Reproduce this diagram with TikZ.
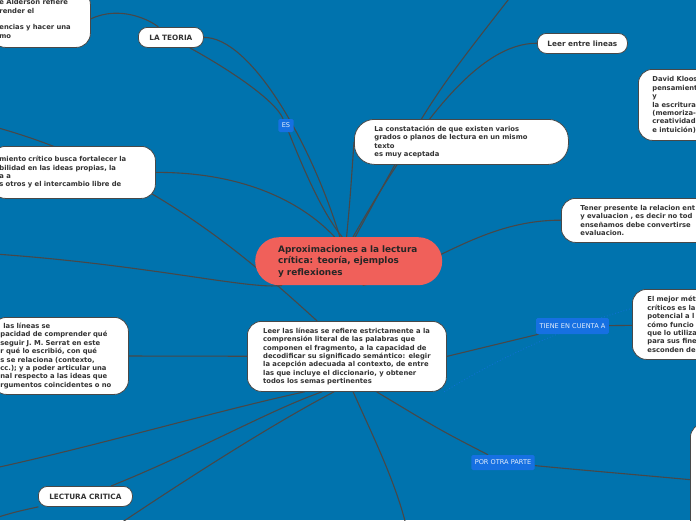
\documentclass[tikz,border=0pt]{standalone}
\usepackage{fontspec}
\setmainfont{DejaVu Sans}
\usetikzlibrary{positioning,backgrounds}
\definecolor{fondo}{RGB}{0,115,174}
\definecolor{rama}{RGB}{72,72,72}
\definecolor{raiz}{RGB}{240,96,90}
\definecolor{etiq}{RGB}{22,112,226}

\begin{document}
\begin{tikzpicture}[x=1pt,y=-1pt,
  idea/.style={draw=rama,fill=white,line width=0.8pt,rounded corners=14pt,anchor=north west,
    align=left,inner xsep=8pt,inner ysep=0pt,font=\fontsize{6.8}{8.4}\selectfont\bfseries,text=black!80},
  chip/.style={draw=rama,fill=white,line width=0.8pt,rounded corners=9pt,anchor=north west,
    inner sep=0pt,font=\fontsize{7.3}{8}\selectfont\bfseries,text=black!80},
  lab/.style={fill=etiq,rounded corners=1.5pt,inner xsep=3.5pt,inner ysep=0pt,minimum height=14pt,
    font=\fontsize{6.6}{7}\selectfont,text=white!88!etiq},
  con/.style={draw=rama,line width=1.1pt},
  lazo/.style={draw=etiq!70!fondo,line width=0.9pt,dotted}]
\useasboundingbox (0,0) rectangle (696,520);

\node (cen) at (255,237) [anchor=north west,fill=raiz,rounded corners=24pt,text width=141pt,minimum height=48pt,
  inner xsep=23pt,align=left,font=\fontsize{8.9}{11.5}\selectfont\bfseries,text=black!85]
  {Aproximaciones a la lectura\\crítica: teoría, ejemplos\\y reflexiones};

\node (lit) at (247,321) [idea,inner xsep=14pt,minimum width=199pt,minimum height=70pt]
  {Leer las líneas se refiere estrictamente a la\\comprensión literal de las palabras que\\componen el fragmento, a la capacidad de\\decodificar su significado semántico: elegir\\la acepción adecuada al contexto, de entre\\las que incluye el diccionario, y obtener\\todos los semas pertinentes};
\node (cons) at (354,119) [idea,rounded corners=20pt,inner xsep=20pt,text width=174pt,minimum width=214pt,minimum height=45pt]
  {La constatación de que existen varios\\grados o planos de lectura en un mismo\\texto\\es muy aceptada};
\node (entre) at (537,33) [chip,minimum width=90pt,minimum height=20pt] {Leer entre lineas};
\node (teo) at (138,27) [chip,minimum width=65pt,minimum height=20pt] {LA TEORIA};
\node (lc) at (38,486) [chip,minimum width=94pt,minimum height=20pt] {LECTURA CRITICA};

\node (ald) at (-9,-10) [idea,text width=83pt,minimum height=57pt]
  {e Alderson refiere\\render el\\\mbox{}\\encias y hacer una\\mo};
\node (fort) at (-9,146) [idea,text width=148pt,minimum height=52pt]
  {miento crítico busca fortalecer la\\bilidad en las ideas propias, la\\a a\\s otros y el intercambio libre de};
\node (serr) at (-8,317) [idea,text width=120pt,minimum height=77pt]
  {\hspace{3pt}las líneas se\\pacidad de comprender qué\\seguir J. M. Serrat en este\\r qué lo escribió, con qué\\s se relaciona (contexto,\\cc.); y a poder articular una\\nal respecto a las ideas que\\rgumentos coincidentes o no};

\node (kl) at (638,69) [idea,inner xsep=14pt,text width=150pt,minimum height=71pt]
  {David Kloos\\pensamient\\y\\la escritura\\(memoriza-\\creatividad\\e intuición)};
\node (ten) at (561,198) [idea,inner xsep=19pt,text width=150pt,minimum height=44pt]
  {Tener presente la relacion ent\\y evaluacion , es decir no tod\\enseñamos debe convertirse\\evaluacion.};
\node (mej) at (632,289) [idea,inner xsep=15pt,text width=150pt,minimum height=70pt]
  {El mejor mét\\críticos es la\\potencial a l\\cómo funcio\\que lo utiliza\\para sus fine\\esconden de};
\node (br) at (690,423) [idea,minimum width=80pt,minimum height=120pt] {};

\node (es) at (286,125.5) [lab,minimum height=13pt] {ES};
\node (tca) at (572.5,326) [lab,minimum height=16pt] {TIENE EN CUENTA A};
\node (pop) at (503,462.5) [lab,minimum height=15pt] {POR OTRA PARTE};

\coordinate (w1) at (-5,127);
\coordinate (w2) at (-5,254);
\coordinate (w3) at (-5,468);
\coordinate (w4) at (118,525);
\coordinate (w5) at (-5,518);
\coordinate (w6) at (406,525);
\coordinate (w7) at (512,-5);

\begin{pgfonlayer}{background}
\fill[fondo] (0,0) rectangle (696,520);
\draw[con] (cen.110) .. controls (310,140) and (250,37) .. (teo.east);
\draw[con] (ald.east) .. controls (120,5) and (150,20) .. (teo);
\draw[con] (teo) .. controls (230,70) and (275,100) .. (es) .. controls (300,160) and (320,210) .. (cen.105);
\draw[con] (fort.east) .. controls (240,172) and (300,200) .. (cen.120);
\draw[con] (w1) .. controls (150,170) and (250,260) .. (lit.130);
\draw[con] (w2) .. controls (150,265) and (250,290) .. (cen.200);
\draw[con] (serr) -- (lit);
\draw[con] (w3) .. controls (100,445) and (220,410) .. (lit.220);
\draw[con] (lc) .. controls (200,450) and (270,410) .. (lit.235);
\draw[con] (w4) .. controls (200,470) and (280,420) .. (lit.250);
\draw[con] (w5) .. controls (15,512) .. (lc);
\draw[con] (lit.280) .. controls (370,430) and (395,480) .. (w6);
\draw[con] (lit.310) .. controls (440,430) .. (pop) .. controls (580,470) and (640,475) .. (br);
\draw[lazo] (lit.340) .. controls (520,345) and (590,320) .. (mej.170);
\draw[con] (lit.east) -- (tca) -- (mej);
\draw[con] (cen.300) .. controls (430,270) and (480,220) .. (ten);
\draw[con] (cen.95) .. controls (350,200) .. (cons.west);
\draw[con] (cen.80) .. controls (420,120) and (480,43) .. (entre);
\draw[con] (cen.75) .. controls (430,100) .. (w7);
\end{pgfonlayer}
\end{tikzpicture}
\end{document}
